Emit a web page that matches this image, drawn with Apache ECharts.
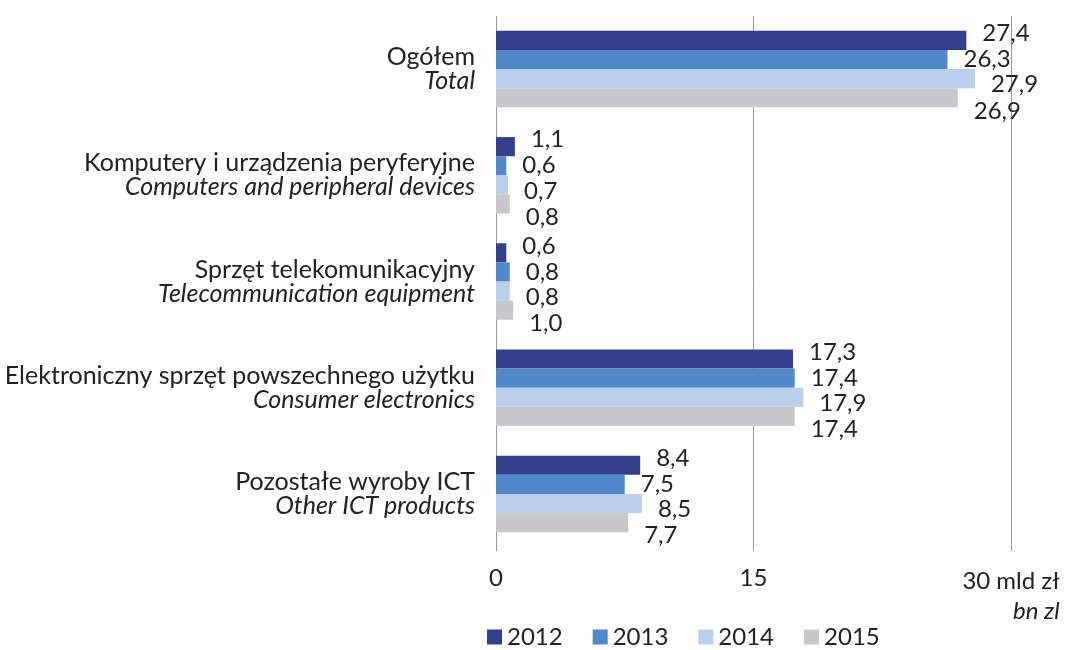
<!DOCTYPE html>
<html>
<head>
<meta charset="utf-8">
<script src="https://cdn.jsdelivr.net/npm/echarts@6/dist/echarts.min.js"></script>
<style>
  html, body { margin: 0; padding: 0; background: #fff; }
  #chart { width: 1069px; height: 650px; }
</style>
</head>
<body>
<div id="chart"></div>
<script>
// kategorie (PL / EN)
const categoriesPl = ["Ogółem", "Komputery i urządzenia peryferyjne", "Sprzęt telekomunikacyjny", "Elektroniczny sprzęt powszechnego użytku", "Pozostałe wyroby ICT"];
const categoriesEn = ["Total", "Computers and peripheral devices", "Telecommunication equipment", "Consumer electronics", "Other ICT products"];
const years = ["2012", "2013", "2014", "2015"];
const values2012 = [27.4, 1.1, 0.6, 17.3, 8.4];
const values2013 = [26.3, 0.6, 0.8, 17.4, 7.5];
const values2014 = [27.9, 0.7, 0.8, 17.9, 8.5];
const values2015 = [26.9, 0.8, 1.0, 17.4, 7.7];
const xTicks = [0, 15, 30];

const colors = ["#323f8c", "#5089c9", "#b9cfeb", "#c8c8ca"];
const labelDy = [-7, 0, 6, 13];
const font = "Lato, 'Open Sans', sans-serif";
const fs = 24;

const chart = echarts.init(document.getElementById("chart"));

const makeSeries = (name, data, i) => ({
  name: name,
  type: "bar",
  data: data,
  barGap: 0,
  barCategoryGap: "28%",
  itemStyle: { color: colors[i] },
  label: {
    show: true,
    position: "right",
    distance: 16,
    offset: [0, labelDy[i]],
    fontFamily: font,
    fontSize: fs,
    color: "#222",
    formatter: (p) => p.value.toFixed(1).replace(".", ","),
  },
});

chart.setOption({
  animation: false,
  textStyle: { fontFamily: font },
  grid: { left: 496, right: 58, top: 16, bottom: 103 },
  xAxis: {
    type: "value",
    min: xTicks[0],
    max: xTicks[2],
    interval: xTicks[1],
    axisLine: { show: false },
    axisTick: { show: true, length: 4, lineStyle: { color: "#999" } },
    splitLine: { show: true, lineStyle: { color: "#999", width: 1 } },
    axisLabel: {
      margin: 19,
      fontSize: fs,
      color: "#222",
      formatter: (v) => (v === 30 ? "{a|30 mld zł}\n{i|bn zl}" : String(v)),
      rich: {
        a: { fontSize: fs, color: "#222", fontFamily: font, lineHeight: 30, align: "right" },
        i: { fontSize: fs, color: "#222", fontFamily: font, fontStyle: "italic", lineHeight: 30, align: "right" },
      },
    },
  },
  yAxis: {
    type: "category",
    inverse: true,
    data: categoriesPl,
    axisLine: { show: false },
    axisTick: { show: false },
    axisLabel: {
      margin: 21,
      align: "right",
      formatter: (v, idx) => "{a|" + v + "}\n{b|" + categoriesEn[idx] + "}",
      rich: {
        a: { fontSize: 25, color: "#222", fontFamily: font, lineHeight: 24 },
        b: { fontSize: 25, color: "#222", fontFamily: font, fontStyle: "italic", lineHeight: 24 },
      },
    },
  },
  legend: {
    left: 487,
    bottom: 1,
    padding: 0,
    icon: "rect",
    itemWidth: 15,
    itemHeight: 15,
    itemGap: 30,
    textStyle: { fontSize: fs, color: "#222", fontFamily: font },
    data: years,
  },
  series: [
    makeSeries(years[0], values2012, 0),
    makeSeries(years[1], values2013, 1),
    makeSeries(years[2], values2014, 2),
    makeSeries(years[3], values2015, 3),
  ],
});
</script>
</body>
</html>
